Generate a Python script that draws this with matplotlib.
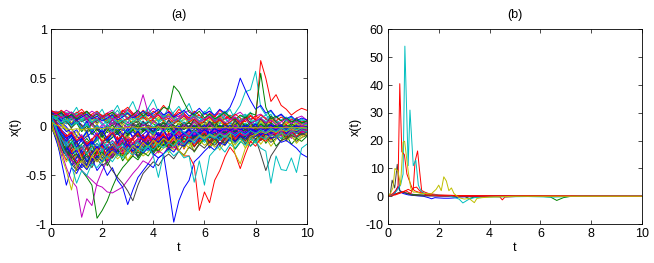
import numpy as np
import matplotlib
matplotlib.use("Agg")
import matplotlib.pyplot as plt

plt.rcParams['font.family'] = ['Liberation Sans', 'DejaVu Sans']
plt.rcParams['axes.unicode_minus'] = False

# ---------------- panel (a) data: values in hundredths, sampled every 0.2 in t ----------------
band = [
    [12,5,-3,-8,-12,-10,-15,-20,-18,-12,-10,-14,-8,-5,-9,-6,-3,-7,-4,-2,-5,-8,-4,-1,-3,-6,-2,0,-3,-5,-2,1,-1,-4,-2,0,-3,-1,1,-2,-4,-1,0,-2,1,-1,-3,0,-1,1,-2],
    [15,14,10,12,8,11,6,9,5,7,10,6,3,8,5,2,6,4,1,5,3,0,4,2,-1,3,1,-2,2,0,-1,3,1,-1,2,0,-2,1,3,0,-1,2,0,1,-1,0,2,-1,1,0,0],
    [10,2,-10,-18,-25,-22,-30,-26,-20,-24,-18,-15,-20,-12,-16,-10,-14,-8,-12,-15,-10,-6,-9,-12,-8,-5,-10,-7,-4,-8,-6,-9,-5,-3,-7,-4,-6,-2,-5,-3,-1,-4,-2,-5,-3,0,-2,-4,-1,-3,-2],
    [16,15,16,14,15,12,13,15,11,14,12,10,13,9,12,15,10,8,11,7,10,6,9,12,8,5,7,10,6,4,8,5,3,6,9,4,2,5,3,6,2,4,1,3,5,2,0,3,1,2,1],
    [8,-5,-15,-28,-35,-30,-38,-32,-25,-30,-22,-18,-25,-20,-15,-12,-18,-14,-10,-13,-8,-11,-6,-9,-12,-7,-5,-8,-4,-6,-3,-7,-5,-2,-4,-6,-3,-1,-4,-2,-5,-3,0,-2,-4,-1,-3,-2,0,-1,-1],
    [13,10,4,-2,-8,-5,-12,-9,-15,-10,-6,-11,-8,-4,-9,-6,-2,-7,-4,-1,-5,-8,-3,-6,-2,-4,-1,-3,-5,-2,0,-3,-1,-2,-4,-1,-2,0,-3,-1,-2,0,-1,-3,-1,0,-2,-1,0,-1,-1],
    [5,-8,-20,-30,-38,-45,-40,-35,-42,-30,-35,-28,-32,-25,-30,-22,-27,-20,-24,-18,-22,-15,-19,-14,-17,-12,-16,-10,-14,-9,-12,-15,-10,-8,-12,-9,-14,-10,-7,-11,-13,-8,-10,-6,-9,-12,-7,-9,-5,-8,-6],
    [14,12,8,10,4,7,2,-2,3,-4,0,-6,-2,-8,-3,-5,2,-1,-4,1,-2,3,0,-3,1,-1,2,4,0,-2,1,3,-1,0,2,-2,1,3,0,2,-1,1,3,0,2,1,-1,2,0,1,1],
    [2,-10,-22,-30,-24,-32,-28,-36,-30,-25,-32,-27,-22,-28,-24,-18,-25,-21,-16,-20,-14,-18,-12,-16,-11,-14,-9,-13,-8,-11,-7,-10,-12,-8,-6,-9,-5,-8,-10,-6,-4,-7,-5,-8,-4,-6,-3,-5,-7,-4,-5],
    [11,13,9,14,10,15,12,8,13,16,11,14,9,12,17,13,10,14,11,8,12,15,10,13,9,11,14,8,10,12,7,9,11,6,8,10,5,7,9,4,6,8,3,5,7,2,4,6,3,4,3],
    [9,0,-8,-15,-22,-18,-26,-34,-28,-22,-30,-25,-20,-27,-23,-17,-21,-26,-19,-15,-22,-18,-13,-17,-20,-14,-11,-16,-12,-9,-13,-10,-15,-11,-8,-12,-14,-10,-7,-11,-9,-13,-10,-6,-9,-12,-8,-5,-9,-7,-6],
    [15,16,13,17,14,11,15,12,16,13,10,14,17,12,15,18,13,16,11,14,19,15,12,16,13,10,14,17,12,9,13,16,11,14,10,7,12,15,10,8,11,13,9,6,10,12,8,5,9,11,7],
    [12,8,3,-4,-10,-16,-12,-20,-25,-18,-22,-30,-26,-20,-24,-17,-21,-14,-18,-12,-15,-9,-13,-8,-11,-6,-10,-5,-8,-4,-7,-3,-6,-9,-5,-2,-6,-4,-1,-5,-3,-7,-4,-2,-5,-3,-1,-4,-2,-3,-2],
    [16,14,12,9,13,10,6,11,8,4,9,5,1,6,3,-1,4,0,-3,2,-1,-4,1,-2,0,-3,2,-1,1,-2,0,2,-1,1,-1,0,2,0,-1,1,0,-1,1,0,-1,0,1,0,0,0,0],
    [7,-3,-12,-20,-27,-35,-42,-38,-30,-34,-28,-36,-30,-24,-29,-22,-26,-31,-24,-19,-25,-20,-15,-21,-17,-13,-18,-14,-10,-15,-12,-8,-13,-10,-6,-11,-8,-12,-9,-5,-10,-7,-4,-9,-6,-3,-8,-5,-7,-4,-3],
    [13,11,6,8,2,5,-1,3,-4,0,-6,-2,-8,-4,-1,-6,-3,1,-2,-5,-1,2,-3,0,-4,-1,1,-2,-5,-1,0,-3,-1,1,-2,0,-3,-1,1,-2,0,-1,-3,0,-2,1,-1,0,-2,0,-1],
    [4,-6,-14,-10,-20,-16,-24,-18,-27,-22,-16,-20,-25,-18,-14,-21,-17,-12,-18,-15,-10,-16,-13,-9,-14,-11,-7,-12,-9,-13,-10,-6,-11,-8,-12,-9,-5,-10,-7,-11,-8,-5,-9,-6,-10,-7,-4,-8,-6,-9,-7],
    [11,9,14,10,7,12,9,5,10,6,11,8,4,9,13,10,7,12,8,14,11,7,10,13,9,6,11,8,12,9,5,10,7,11,14,9,6,10,13,8,5,9,12,8,4,7,10,6,3,7,5],
    [6,-4,-16,-24,-18,-26,-20,-28,-22,-17,-23,-19,-14,-20,-16,-11,-17,-13,-8,-15,-11,-6,-12,-9,-5,-10,-7,-3,-8,-5,-2,-6,-4,-1,-5,-3,0,-4,-2,1,-3,-1,-4,-2,0,-3,-1,1,-2,0,-1],
    [14,15,11,13,9,12,14,10,7,11,8,12,9,6,10,13,8,5,9,7,4,8,6,3,7,5,2,6,4,1,5,3,0,4,2,-1,3,1,-2,2,0,-1,1,0,-2,1,-1,0,1,-1,0],
    [9,3,-5,-12,-8,-17,-22,-15,-20,-26,-19,-23,-29,-22,-18,-24,-20,-15,-21,-17,-23,-18,-14,-19,-16,-12,-18,-14,-20,-15,-11,-16,-13,-18,-14,-10,-15,-12,-17,-13,-9,-14,-11,-16,-12,-8,-13,-10,-15,-11,-9],
    [10,6,1,-5,-2,-9,-14,-10,-6,-12,-8,-15,-11,-7,-13,-9,-5,-11,-8,-3,-9,-6,-12,-8,-4,-10,-7,-3,-9,-6,-2,-8,-5,-10,-7,-3,-6,-9,-5,-2,-7,-4,-8,-5,-1,-6,-3,-7,-4,-2,-3],
    [0,-12,-25,-20,-33,-40,-34,-28,-36,-31,-26,-33,-28,-23,-30,-26,-21,-27,-23,-18,-25,-21,-16,-22,-18,-14,-20,-16,-12,-18,-14,-10,-16,-12,-9,-14,-11,-7,-12,-9,-6,-11,-8,-5,-10,-7,-4,-9,-6,-8,-5],
    [17,14,16,12,15,10,13,16,11,14,9,12,15,10,13,17,12,9,14,11,16,12,8,13,10,15,11,7,12,9,14,10,6,11,8,12,9,5,10,7,11,8,4,9,6,10,7,3,8,5,6],
    [3,-7,-18,-13,-22,-30,-24,-17,-25,-21,-15,-22,-28,-21,-16,-23,-19,-14,-20,-25,-18,-13,-19,-15,-21,-16,-12,-18,-14,-10,-16,-12,-17,-13,-9,-15,-11,-7,-13,-10,-14,-11,-7,-12,-9,-5,-10,-7,-11,-8,-6],
    [12,10,7,3,8,4,-1,5,1,-3,2,-2,4,0,-4,1,-2,3,-1,-5,0,-3,2,-1,-4,0,-2,1,-1,-3,0,2,-1,-2,1,-1,0,2,-1,0,-2,1,0,-1,1,0,-1,0,1,0,0],
    [1,-9,-20,-28,-35,-29,-38,-44,-36,-30,-37,-32,-26,-33,-28,-35,-29,-24,-30,-26,-21,-27,-22,-18,-24,-20,-16,-22,-18,-14,-19,-15,-21,-17,-13,-18,-14,-10,-16,-12,-17,-13,-9,-14,-10,-15,-11,-8,-13,-9,-7],
    [13,12,9,11,7,10,5,8,3,6,9,4,7,2,5,8,3,6,1,4,7,2,5,0,3,6,1,4,-1,2,5,0,3,-2,1,4,-1,2,-3,0,3,-2,1,-1,2,-1,0,-2,1,-1,0],
    [15,11,5,0,-7,-3,-11,-6,-2,-9,-4,-12,-7,-2,-8,-3,-10,-5,-1,-7,-3,-9,-4,0,-6,-2,-8,-3,1,-5,-1,-6,-2,2,-4,0,-5,-1,2,-3,1,-4,0,3,-2,1,-3,0,2,-1,0],
    [8,0,-9,-17,-13,-22,-18,-12,-19,-14,-9,-16,-11,-6,-13,-8,-3,-10,-5,-1,-7,-3,1,-5,-1,3,-3,1,5,-1,3,0,4,-2,2,-1,3,0,-3,1,-2,2,-1,-4,0,-2,1,-1,-3,0,-1],
    [10,-2,-18,-8,-26,-14,-32,-20,-12,-28,-16,-34,-22,-10,-25,-14,-30,-18,-8,-22,-12,-26,-15,-6,-19,-10,-23,-13,-4,-16,-8,-20,-10,-2,-13,-5,-17,-7,0,-11,-3,-14,-5,2,-8,-1,-11,-3,3,-6,-2],
    [15,8,16,5,12,20,9,15,4,11,18,7,14,22,10,17,26,13,8,19,28,15,9,21,12,6,16,24,11,5,14,20,9,3,12,18,7,2,10,15,5,0,8,13,3,-2,6,10,1,4,2],
    [6,-8,-22,-12,-30,-38,-24,-16,-34,-26,-18,-36,-28,-20,-12,-27,-19,-31,-22,-14,-26,-18,-10,-22,-14,-6,-18,-10,-3,-14,-7,-1,-11,-5,-15,-8,-2,-12,-6,-16,-9,-3,-13,-7,-1,-10,-5,-12,-6,-2,-4],
    [13,6,-4,8,-2,-12,2,-8,4,-6,-14,-3,-10,2,-6,-12,-1,-8,5,-4,-10,1,-6,6,-2,-8,3,-4,7,-1,-6,4,-3,8,0,-5,5,-2,9,1,-4,6,-1,10,2,-3,7,0,4,-2,1],
    [3,-12,-26,-18,-34,-44,-30,-40,-24,-36,-28,-20,-32,-24,-16,-28,-20,-30,-22,-14,-26,-18,-10,-22,-15,-25,-17,-9,-21,-13,-6,-17,-10,-20,-12,-5,-15,-8,-18,-11,-4,-14,-7,-2,-11,-5,-13,-7,-1,-8,-5],
    [11,14,6,12,2,9,-3,6,-6,3,-9,0,-5,4,-2,-8,1,-4,5,-1,-6,3,-2,7,0,-4,4,-1,8,2,-3,5,0,-5,3,-1,6,1,-3,4,0,-2,3,-1,2,0,-2,1,-1,0,0],
    [8,-4,-14,-24,-16,-28,-36,-26,-18,-32,-24,-40,-30,-22,-35,-27,-19,-32,-24,-16,-28,-20,-12,-24,-17,-10,-21,-14,-26,-18,-11,-22,-15,-8,-19,-12,-23,-16,-9,-20,-13,-6,-17,-10,-20,-14,-8,-18,-12,-15,-10],
    [16,12,17,13,9,14,18,12,8,15,11,6,13,9,16,20,14,10,17,13,8,15,22,16,11,18,13,9,16,12,7,14,10,17,12,8,13,9,5,11,7,12,8,4,10,6,2,8,5,3,6],
    [4,-10,-2,-18,-8,-24,-12,-4,-20,-10,-26,-14,-6,-18,-9,-22,-12,-3,-15,-7,-20,-10,-2,-14,-6,-17,-8,0,-11,-4,-14,-6,2,-9,-2,-12,-4,3,-7,-1,-10,-3,4,-5,0,-8,-2,3,-4,1,-1],
    [9,4,-3,-11,-5,-15,-8,-20,-13,-6,-17,-10,-3,-14,-7,-18,-11,-4,-13,-6,-16,-9,-2,-12,-5,-14,-8,-11,-6,-13,-9,-7,-12,-8,-10,-6,-11,-7,-9,-5,-10,-7,-4,-8,-6,-9,-5,-7,-4,-6,-5],
    [14,10,15,9,4,11,6,13,8,2,10,5,12,7,1,9,4,11,16,8,3,10,5,13,7,2,9,4,11,6,1,8,3,10,5,0,7,2,9,4,-1,6,1,8,3,-2,5,0,6,2,1],
    [7,-6,-20,-30,-22,-14,-28,-20,-34,-26,-18,-10,-24,-16,-8,-20,-12,-4,-16,-8,-18,-10,-3,-14,-6,-16,-9,-2,-12,-5,-14,-7,0,-10,-3,-12,-5,1,-8,-2,-10,-4,2,-6,-1,-8,-3,1,-5,-1,-2],
    [2,-14,-30,-22,-40,-32,-24,-36,-28,-20,-33,-25,-17,-29,-21,-13,-26,-18,-10,-23,-15,-8,-20,-12,-5,-17,-10,-3,-14,-7,-1,-11,-5,-14,-8,-2,-10,-4,1,-7,-2,-9,-3,2,-5,0,-7,-2,1,-3,-1],
    [12,9,3,7,-1,4,-5,1,-8,-2,-11,-4,2,-6,0,-9,-3,3,-5,1,-7,-1,4,-3,2,-5,0,5,-2,3,-4,1,6,-1,4,-3,2,7,0,5,-2,3,-1,4,0,2,-1,3,0,1,0],
    [5,-9,-24,-34,-26,-38,-30,-22,-35,-27,-19,-31,-23,-15,-28,-20,-12,-25,-17,-9,-22,-14,-7,-19,-11,-4,-16,-8,-20,-12,-5,-15,-8,-18,-10,-3,-13,-6,-15,-8,-2,-11,-5,-13,-7,-1,-9,-4,-10,-5,-3],
    [10,12,8,3,9,14,7,1,10,15,8,2,11,17,9,4,12,6,13,19,11,5,13,8,15,21,12,6,14,9,16,11,5,13,8,3,10,6,12,7,2,9,5,11,6,1,7,3,8,4,2],
    [15,13,9,14,10,5,12,7,2,9,4,-1,7,2,-3,5,0,-5,3,-2,6,1,-4,4,-1,-6,2,-3,5,0,-4,3,-2,-7,0,-5,2,-3,-8,-1,-6,1,-4,-9,-2,-6,0,-4,-1,-5,-3],
    [1,-11,-24,-36,-28,-20,-32,-42,-30,-22,-34,-26,-18,-30,-22,-35,-26,-18,-28,-20,-12,-24,-16,-27,-19,-11,-22,-15,-25,-17,-10,-21,-14,-24,-16,-9,-19,-12,-22,-15,-8,-18,-11,-20,-13,-6,-15,-9,-17,-11,-8],
    [11,6,12,5,-1,7,1,-5,4,-2,-8,2,-4,5,-1,-7,3,-3,6,0,-5,4,-2,7,1,-4,5,-1,8,2,-3,6,0,9,3,-2,7,1,10,4,-1,8,2,11,5,0,8,3,9,4,5],
    [9,2,-7,-15,-9,-21,-13,-5,-18,-10,-2,-14,-6,-17,-9,-1,-12,-4,-15,-7,0,-10,-3,-13,-5,1,-8,-2,-11,-4,2,-7,-1,-9,-3,2,-6,0,-8,-2,3,-5,0,-7,-2,2,-4,0,-5,-1,-1],
]
band_colors = ['b','g','r','c','m','y','k'] * 8

outliers = [
    [10,-5,-25,-42,-55,-62,-93,-74,-81,-58,-45,-35,-30,-22,-26,-18,-22,-15,-19,-12,-16,-10,-13,-8,-11,-7,-9,-5,-8,-4,-6,-3,-5,-2,-4,-1,-3,-2,0,-2,-1,-3,-1,0,-2,-1,0,-1,1,0,0],
    [12,0,-15,-25,-30,-38,-45,-52,-60,-94,-86,-76,-62,-50,-42,-36,-30,-34,-26,-30,-22,-25,-18,-21,-15,-18,-12,-15,-10,-12,-8,-11,-7,-9,-5,-8,-4,-6,-3,-5,-2,-4,-1,-3,0,-2,-1,0,-2,-1,-1],
    [9,-4,-16,-28,-34,-40,-45,-50,-55,-60,-62,-67,-68,-65,-62,-55,-48,-42,-35,-38,-30,-25,-28,-20,-22,-16,-18,-12,-14,-10,-12,-8,-10,-6,-8,-5,-7,-4,-6,-3,-5,-2,-4,-1,-3,-2,0,-2,-1,0,-1],
    [14,2,-12,-20,-28,-24,-35,-40,-32,-45,-38,-50,-42,-55,-62,-80,-65,-52,-45,-38,-42,-32,-28,-22,-26,-18,-20,-14,-17,-11,-14,-9,-12,-7,-10,-6,-8,-5,-7,-3,-5,-2,-4,-1,-3,0,-2,-1,1,-1,0],
    [6,-8,-18,-26,-32,-28,-35,-30,-38,-33,-40,-36,-45,-52,-58,-66,-76,-60,-48,-42,-36,-40,-32,-28,-33,-25,-29,-21,-25,-18,-22,-15,-19,-13,-17,-11,-15,-10,-14,-9,-12,-28,-45,-30,-22,-14,-12,-9,-11,-7,-9],
    [13,-10,-35,-60,-42,-48,-38,-44,-35,-30,-36,-28,-24,-30,-22,-26,-18,-22,-15,-19,-12,-16,-10,-14,-8,-12,-6,-10,-5,-8,-3,-7,-2,-5,-1,-4,0,-3,1,-2,-4,-8,-6,-12,-10,-16,-14,-18,-22,-28,-31],
    [11,5,-5,-12,-8,-16,-12,-20,-15,-22,-18,-25,-20,-28,-23,-18,-25,-20,-27,-22,-28,-32,-28,-62,-98,-76,-63,-55,-36,-31,-25,-20,-24,-16,-19,-12,-15,-9,-12,-7,-10,-5,-8,-4,-6,-2,-5,-1,-3,-2,-1],
    [10,4,-4,-10,-6,-14,-10,-18,-13,-8,-15,-11,-6,-13,-9,-15,-11,-7,-14,-10,-16,-12,-8,-15,-20,-25,-30,-30,-40,-86,-67,-78,-55,-45,-31,-21,-28,-43,-28,-15,-20,-12,-15,-8,-11,-6,-9,-4,-7,-3,-5],
    [12,14,10,13,8,11,15,9,12,7,10,14,8,11,6,9,13,7,10,5,8,12,6,9,4,7,11,5,8,3,6,10,4,7,2,5,9,3,7,12,7,68,50,26,33,22,18,12,16,19,17],
    [10,8,12,6,9,3,7,11,5,8,2,6,10,4,7,1,5,9,3,6,0,4,8,2,5,9,3,7,11,6,9,13,8,12,16,10,14,22,36,38,57,20,12,16,9,13,6,10,4,8,5],
    [15,12,14,9,12,7,10,13,8,11,6,9,12,7,10,14,9,12,16,11,14,18,12,15,10,13,17,11,14,19,13,16,12,18,14,20,32,50,38,27,18,22,14,17,10,13,8,11,6,9,7],
    [14,11,15,9,13,8,12,16,10,13,9,12,15,10,14,8,12,17,11,15,10,14,20,18,42,36,25,15,12,16,9,13,8,11,15,10,7,12,9,14,12,55,20,8,11,6,9,5,7,4,6],
    [11,13,9,12,15,10,13,8,11,14,9,12,7,10,13,8,11,15,33,14,10,13,8,11,6,9,12,7,10,5,8,11,6,9,4,7,10,5,8,3,6,9,4,7,2,5,8,3,6,1,4],
    [8,-2,-12,-20,-15,-24,-19,-28,-22,-17,-24,-20,-15,-22,-18,-25,-20,-16,-23,-19,-30,-52,-28,-24,-30,-25,-32,-30,-57,-35,-60,-30,-24,-20,-26,-18,-22,-15,-19,-12,-16,-10,-13,-8,-11,-6,-9,-4,-7,-3,-5],
    [12,9,4,7,1,5,-2,3,-4,1,-3,2,-5,0,-2,-6,-1,-4,0,-3,-7,-2,-5,-1,-8,-3,-6,-10,-4,-8,-12,-7,-10,-14,-9,-13,-17,-12,-16,-20,-15,-22,-25,-58,-30,-44,-45,-32,-47,-22,-18],
    [7,-10,-30,-45,-65,-40,-35,-42,-30,-36,-28,-33,-25,-30,-22,-27,-19,-24,-16,-21,-14,-18,-12,-16,-10,-24,-30,-20,-13,-9,-12,-8,-11,-7,-10,-6,-28,-38,-22,-10,-8,-5,-7,-4,-6,-3,-5,-2,-4,-1,-2],
    [11,0,-18,-30,-40,-58,-45,-50,-38,-42,-35,-30,-36,-28,-32,-25,-29,-22,-26,-20,-24,-18,-22,-16,-20,-14,-18,-12,-16,-10,-14,-9,-12,-7,-11,-6,-9,-5,-8,-4,-7,-3,-6,-2,-5,-1,-4,0,-3,-1,-2],
    [5,2,0,-2,-3,-2,-3,-2,-2,-1,-2,-1,-1,-2,-1,-1,0,-1,-1,0,-1,0,-1,-1,0,-1,-1,-1,-1,-1,-1,-1,-1,-1,-1,-1,-1,-1,-1,-1,-1,-1,-1,-1,-1,-1,-1,-1,-1,-1,-1],
]
outlier_colors = ['m','g','m','b','k','b','b','r','r','c','b','g','m','c','c','y','c','y']
SCALE_A = 0.01

# ---------------- panel (b) data: (t, x) breakpoints per path ----------------
b_t_cyan = [0,0.1,0.2,0.3,0.4,0.5,0.6,0.67,0.8,0.87,1.0,1.1,1.2,1.3,1.4,1.5,1.7,2.0,2.4,2.8,2.95,3.2,3.4,3.8,4.5,5.5,6.5,7.5,10]
b_x_cyan = [0,0.3,0.8,1.5,2.5,4,8,54,11,31,11,13,4,2,1.2,1,0.6,0.4,0.2,-1,-2.4,-1,-0.5,-0.3,-0.2,-0.1,-0.3,0,0]
b_t_red1 = [0,0.1,0.2,0.3,0.4,0.47,0.55,0.65,0.75,0.85,0.95,1.05,1.2,1.5,2.0,3.0,10]
b_x_red1 = [0,0.5,1,2,3.5,40.5,16,15,8,5.5,3,2,1.5,0.8,0.3,0.1,0]
b_t_red2 = [0,0.3,0.6,0.8,0.9,1.0,1.07,1.17,1.25,1.33,1.45,1.6,2.0,3.0,4.0,4.4,4.5,4.6,5.2,10]
b_x_red2 = [0,0.5,1.5,2.5,2,2.8,12.5,16.3,9,2.1,1.5,1,0.5,0.2,0,-0.2,-1.3,-0.3,0,0]
b_t_red3 = [0,0.4,0.7,0.9,1.0,1.13,1.25,1.5,2,10]
b_x_red3 = [0,1,2,1,3,3.3,2,0.5,0.2,0]
b_t_gray = [0,0.1,0.17,0.27,0.37,0.47,0.6,0.8,1.0,1.5,10]
b_x_gray = [0,1,5.8,3,11.5,2,1.5,0.8,0.3,0.1,0]
b_t_blue = [0,0.2,0.3,0.4,0.5,0.6,0.8,1.0,1.4,1.6,1.72,1.85,2.0,2.2,2.4,2.6,2.8,3.0,3.5,4,10]
b_x_blue = [0,0.5,1.5,3.5,1.5,1,0.5,0.3,0,-0.5,-0.9,-0.5,-0.6,-0.7,-0.7,-0.6,-0.3,-0.2,-0.1,0,0]
b_t_green = [0,0.3,0.5,0.8,1.0,2.0,3.0,3.2,3.4,4.0,6.0,6.4,6.64,6.9,7.2,10]
b_x_green = [0,0.8,1.5,1,0.6,0.2,0,-0.8,-0.3,0,0,-0.3,-1.5,-0.5,0,0]
b_t_mag = [0,0.2,0.4,0.6,0.8,1.0,1.5,2.0,10]
b_x_mag = [0,0.5,1.2,1.5,1,0.7,0.3,0.1,0]
b_t_yel = [0,0.1,0.2,0.28,0.4,0.5,0.6,0.66,0.8,0.9,1.0,1.1,1.3,1.5,1.7,1.9,2.0,2.1,2.2,2.3,2.4,2.5,2.6,2.7,2.8,3.0,3.2,3.4,3.5,3.7,4.0,5.0,10]
b_x_yel = [0,1,3,10,9,4,19.5,19.8,9,3,1.5,1.5,1,1,0.8,2.5,4,2,7,5.5,2,3,1,0.2,-0.5,-1,-0.8,-2.3,-0.8,-0.5,-0.3,0,0]

b_paths = [
    (b_t_mag, b_x_mag, 'm'), (b_t_green, b_x_green, 'g'), (b_t_blue, b_x_blue, 'b'),
    (b_t_gray, b_x_gray, 'k'), (b_t_red3, b_x_red3, 'r'), (b_t_red2, b_x_red2, 'r'),
    (b_t_cyan, b_x_cyan, 'c'), (b_t_red1, b_x_red1, 'r'), (b_t_yel, b_x_yel, 'y'),
]

# ---------------- styling ----------------
MC = {'b': (0, 0, 1), 'g': (0, 0.5, 0), 'r': (1, 0, 0), 'c': (0, 0.75, 0.75),
      'm': (0.75, 0, 0.75), 'y': (0.75, 0.75, 0), 'k': (0.25, 0.25, 0.25)}
LW = 0.7
FS = 9

fig = plt.figure(figsize=(6.54, 2.63), dpi=100)
ax1 = fig.add_axes([0.078, 0.148, 0.391, 0.740])
ax2 = fig.add_axes([0.593, 0.148, 0.389, 0.740])

for vals, c in zip(band, band_colors):
    v = np.array(vals) * SCALE_A
    ax1.plot(np.linspace(0, 10, len(v)), v, color=MC[c], lw=LW)
for vals, c in zip(outliers, outlier_colors):
    v = np.array(vals) * SCALE_A
    ax1.plot(np.linspace(0, 10, len(v)), v, color=MC[c], lw=LW)

for tt, xx, c in b_paths:
    ax2.plot(tt, xx, color=MC[c], lw=LW)

ax1.set_xlim(0, 10)
ax1.set_ylim(-1, 1)
ax1.set_yticks([-1, -0.5, 0, 0.5, 1])
ax1.set_yticklabels(['-1', '-0.5', '0', '0.5', '1'])
ax1.set_xticks([0, 2, 4, 6, 8, 10])
ax1.set_title('(a)', fontsize=FS, pad=8)

ax2.set_xlim(0, 10)
ax2.set_ylim(-10, 60)
ax2.set_yticks([-10, 0, 10, 20, 30, 40, 50, 60])
ax2.set_xticks([0, 2, 4, 6, 8, 10])
ax2.set_title('(b)', fontsize=FS, pad=8)

for ax in (ax1, ax2):
    ax.set_xlabel('t', fontsize=FS, labelpad=1)
    ax.set_ylabel('x(t)', fontsize=FS, labelpad=3)
    ax.tick_params(direction='in', length=3, width=0.5, labelsize=FS,
                   top=True, right=True, pad=3)
    for s in ax.spines.values():
        s.set_linewidth(0.6)

fig.savefig('out.png', dpi=100)
